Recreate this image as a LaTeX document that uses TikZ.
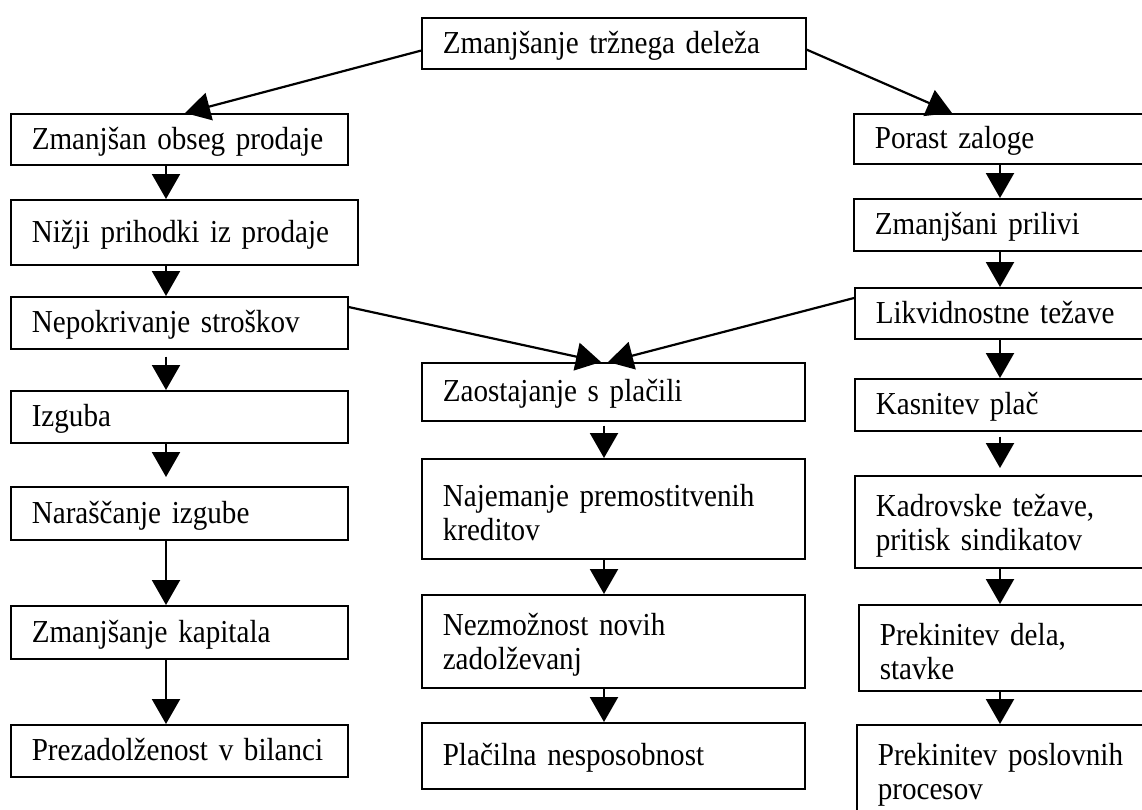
\documentclass[tikz,border=0pt]{standalone}
\usepackage{fontspec}
\setmainfont[FakeStretch=0.91,WordSpace=0.7]{Liberation Serif}
\usetikzlibrary{arrows.meta,calc}
\newcommand\upstrut{\rule{0pt}{30pt}}
\begin{document}
\begin{tikzpicture}[x=1pt,y=-1pt,
  bx/.style={draw,line width=1.6pt,anchor=north west,inner xsep=21pt,inner ysep=0pt,
    align=left,font=\fontsize{32pt}{34pt}\selectfont},
  one/.style={bx,text height=22pt,text depth=2pt},
  two/.style={bx},
  sz/.style 2 args={text width=#1,minimum height=#2},
  arr/.style={line width=2.2pt,-{Triangle[width=28pt,length=25pt]}}
]
\clip (0,0) rectangle (1142,809);
\fill[white] (0,0) rectangle (1142,809);
% top
\node[one,sz={342pt}{51pt}] (T) at (421,17) {Zmanjšanje tržnega deleža};
% left column
\node[one,sz={295pt}{51pt}] (B1) at (10,113) {Zmanjšan obseg prodaje};
\node[one,sz={305pt}{65pt}] (B2) at (10,199) {Nižji prihodki iz prodaje};
\node[one,sz={295pt}{52pt}] (B3) at (10,296) {Nepokrivanje stroškov};
\node[one,sz={295pt}{52pt}] (B4) at (10,390) {Izguba};
\node[one,sz={295pt}{53pt}] (B5) at (10,486) {Naraščanje izgube};
\node[one,sz={295pt}{53pt}] (B6) at (10,605) {Zmanjšanje kapitala};
\node[one,sz={295pt}{52pt}] (B7) at (10,724) {Prezadolženost v bilanci};
% centre column
\node[one,sz={341pt}{58pt}] (C1) at (421,362) {Zaostajanje s plačili};
\node[two,sz={341pt}{100pt}] (C2) at (421,458) {\upstrut Najemanje premostitvenih\\kreditov};
\node[two,sz={341pt}{93pt}] (C3) at (421,594) {\upstrut Nezmožnost novih\\zadolževanj};
\node[one,sz={341pt}{66pt}] (C4) at (421,722) {Plačilna nesposobnost};
% right column
\node[one,sz={255pt}{50pt}] (R1) at (853,113) {Porast zaloge};
\node[one,sz={255pt}{52pt}] (R2) at (853,198) {Zmanjšani prilivi};
\node[one,sz={254pt}{51pt}] (R3) at (854,287) {Likvidnostne težave};
\node[one,sz={254pt}{52pt}] (R4) at (854,378) {Kasnitev plač};
\node[two,sz={254pt}{92pt}] (R5) at (854,475) {\upstrut Kadrovske težave,\\pritisk sindikatov};
\node[two,sz={250pt}{86pt}] (R6) at (858,604) {\upstrut Prekinitev dela,\\stavke};
\node[two,sz={252pt}{92pt}] (R7) at (856,724) {\upstrut Prekinitev poslovnih\\procesov};
% helper columns
\coordinate (lx) at (166,0);
\coordinate (cx) at (604,0);
\coordinate (rx) at (1000,0);
% diagonal connectors
\draw[arr] ($(T.south west)+(0,-19)$) -- ($(B1.north west)+(175,0)$);
\draw[arr] ($(T.south east)+(0,-20)$) -- ($(R1.north west)+(99,0)$);
\draw[arr] ($(B3.north east)+(0,11)$) -- ($(C1.north west)+(180,0)$);
\draw[arr] ($(R3.north west)+(0,11)$) -- ($(C1.north west)+(187,0)$);
% left column arrows
\draw[arr] (B1.south -| lx) -- (B2.north -| lx);
\draw[arr] (B2.south -| lx) -- (B3.north -| lx);
\draw[arr,shorten <=7pt] (B3.south -| lx) -- (B4.north -| lx);
\draw[arr,shorten >=9pt] (B4.south -| lx) -- (B5.north -| lx);
\draw[arr] (B5.south -| lx) -- (B6.north -| lx);
\draw[arr] (B6.south -| lx) -- (B7.north -| lx);
% centre column arrows
\draw[arr,shorten <=4pt] (C1.south -| cx) -- (C2.north -| cx);
\draw[arr] (C2.south -| cx) -- (C3.north -| cx);
\draw[arr] (C3.south -| cx) -- (C4.north -| cx);
% right column arrows
\draw[arr] (R1.south -| rx) -- (R2.north -| rx);
\draw[arr] (R2.south -| rx) -- (R3.north -| rx);
\draw[arr] (R3.south -| rx) -- (R4.north -| rx);
\draw[arr,shorten <=5pt,shorten >=7pt] (R4.south -| rx) -- (R5.north -| rx);
\draw[arr] (R5.south -| rx) -- (R6.north -| rx);
\draw[arr] (R6.south -| rx) -- (R7.north -| rx);
\end{tikzpicture}
\end{document}
